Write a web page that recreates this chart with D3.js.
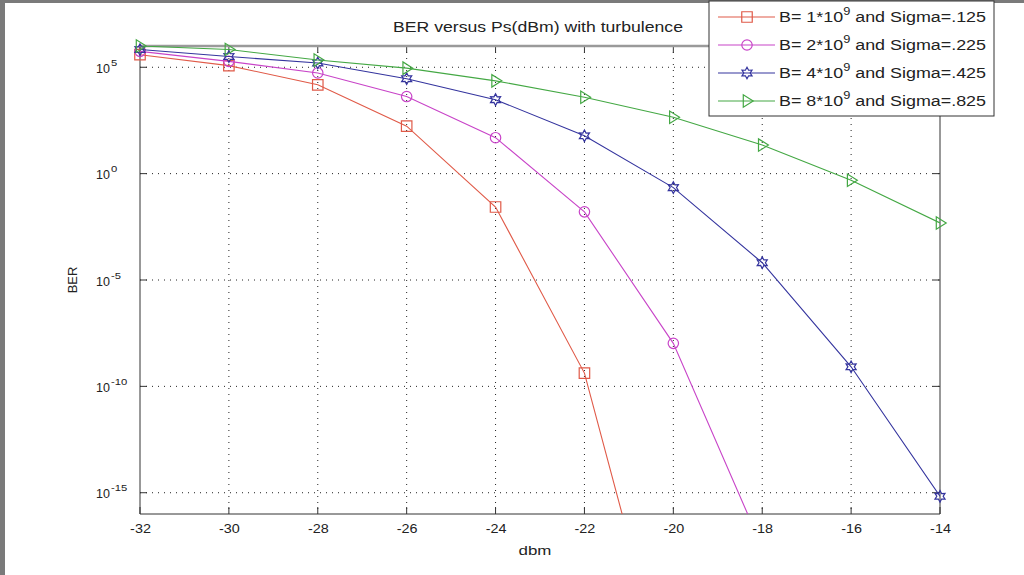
<!DOCTYPE html>
<html><head><meta charset="utf-8">
<script src="https://cdn.jsdelivr.net/npm/d3@7"></script>
<style>
html,body{margin:0;padding:0;background:#fff;}
svg{display:block;}
text{font-family:"Liberation Sans",Arial,sans-serif;fill:#222;}
</style></head>
<body>
<svg id="chart" width="1024" height="575"></svg>
<script>
// ---- data ----
const dbm = [-32, -30, -28, -26, -24, -22, -20, -18, -16, -14];
const xTicks = [-32, -30, -28, -26, -24, -22, -20, -18, -16, -14];
const yTickExps = [5, 0, -5, -10, -15];
const berB1 = [3.9e5, 1.2e5, 1.5e4, 1.7e2, 2.7e-2, 4.2e-10, 1e-25];
const berB2 = [5.6e5, 1.9e5, 5.4e4, 4.2e3, 49, 1.6e-2, 1.05e-8, 2.7e-18];
const berB4 = [6.8e5, 3.2e5, 1.6e5, 2.9e4, 3.0e3, 60, 0.22, 6.5e-5, 8.3e-10, 6.8e-16];
const berB8 = [1.0e6, 6.8e5, 2.2e5, 9.1e4, 2.3e4, 3.9e3, 450, 22, 0.49, 4.8e-3];
const seriesNames = ["B= 1*10", "B= 2*10", "B= 4*10", "B= 8*10"];
const seriesSigma = [" and Sigma=.125", " and Sigma=.225", " and Sigma=.425", " and Sigma=.825"];
const titleText = "BER versus Ps(dBm) with turbulence";
const xLabel = "dbm";
const yLabel = "BER";

const colors = ["#e05a48", "#c844c8", "#34349e", "#44a844"];
const symbols = ["square", "circle", "hexagram", "triangleRight"];
const seriesData = [berB1, berB2, berB4, berB8];

const svg = d3.select("#chart");
const W = 1024, H = 575;
const L = 140, R = 940, T = 46, B = 514;

function stretch(sel, f) {
  sel.each(function() {
    const w = this.getComputedTextLength();
    d3.select(this).attr("textLength", w * f).attr("lengthAdjust", "spacingAndGlyphs");
  });
}

// frame
svg.append("rect").attr("x",0).attr("y",0).attr("width",W).attr("height",H).attr("fill","#fff");
svg.append("rect").attr("x",0).attr("y",0).attr("width",W).attr("height",3).attr("fill","#7a7a7a");
svg.append("rect").attr("x",0).attr("y",0).attr("width",5).attr("height",H).attr("fill","#7a7a7a");

const x = d3.scaleLinear().domain([-32, -14]).range([L, R]);
const y = d3.scaleLog().domain([1e-16, 1e6]).range([B, T]);

// grid
const grid = svg.append("g");
xTicks.forEach(t => {
  if (t === -32 || t === -14) return;
  grid.append("line").attr("x1", x(t)).attr("x2", x(t)).attr("y1", T).attr("y2", B)
    .attr("stroke", "#222").attr("stroke-width", 1).attr("stroke-dasharray", "1,5");
});
yTickExps.forEach(e => {
  grid.append("line").attr("x1", L).attr("x2", R).attr("y1", y(Math.pow(10, e))).attr("y2", y(Math.pow(10, e)))
    .attr("stroke", "#222").attr("stroke-width", 1).attr("stroke-dasharray", "1,5");
});

// axes
const xAxis = d3.axisBottom(x).tickValues(xTicks).tickSize(0).tickPadding(8).tickFormat(d => d);
const gx = svg.append("g").attr("transform", `translate(0,${B})`).call(xAxis);
gx.select(".domain").remove();
gx.selectAll("text").attr("font-size", 12.5).attr("fill", "#222").attr("dy", "0.85em")
  .attr("font-family", "Liberation Sans, Arial, sans-serif");
stretch(gx.selectAll("text"), 1.15);

const yAxis = d3.axisLeft(y).tickValues(yTickExps.map(e => Math.pow(10, e))).tickSize(0).tickPadding(30).tickFormat("");
const gy = svg.append("g").attr("transform", `translate(${L},0)`).call(yAxis);
gy.select(".domain").remove();
gy.selectAll(".tick").each(function(d) {
  const e = Math.round(Math.log10(d));
  const g = d3.select(this);
  g.append("text").attr("x", -30).attr("y", 5)
    .attr("text-anchor", "end").attr("font-size", 12.5).attr("fill", "#222").text("10");
  const ex = g.append("text").attr("x", -29).attr("y", -2)
    .attr("text-anchor", "start").attr("font-size", 9).attr("fill", "#222").text(String(e));
  stretch(ex, 1.25);
});

// ticks (inward) on all sides
const tk = svg.append("g").attr("stroke", "#333").attr("stroke-width", 1);
xTicks.forEach(t => {
  tk.append("line").attr("x1", x(t)).attr("x2", x(t)).attr("y1", B).attr("y2", B - 7);
  tk.append("line").attr("x1", x(t)).attr("x2", x(t)).attr("y1", T).attr("y2", T + 7);
});
yTickExps.forEach(e => {
  const yy = y(Math.pow(10, e));
  tk.append("line").attr("x1", L).attr("x2", L + 7).attr("y1", yy).attr("y2", yy);
  tk.append("line").attr("x1", R).attr("x2", R - 7).attr("y1", yy).attr("y2", yy);
});

// box
svg.append("line").attr("x1", L).attr("x2", L).attr("y1", T).attr("y2", B).attr("stroke", "#333");
svg.append("line").attr("x1", L).attr("x2", R).attr("y1", B).attr("y2", B).attr("stroke", "#333");
svg.append("line").attr("x1", R).attr("x2", R).attr("y1", T).attr("y2", B).attr("stroke", "#333");
svg.append("line").attr("x1", L).attr("x2", R).attr("y1", T).attr("y2", T).attr("stroke", "#9a9a9a").attr("stroke-width", 2.5);

// symbol types
const hexagram = {
  draw(ctx, size) {
    const r = Math.sqrt(size) * 0.75, ri = r * 0.55;
    for (let i = 0; i < 12; i++) {
      const a = -Math.PI / 2 + i * Math.PI / 6;
      const rr = i % 2 === 0 ? r : ri;
      const px = rr * Math.cos(a), py = rr * Math.sin(a);
      if (i === 0) ctx.moveTo(px, py); else ctx.lineTo(px, py);
    }
    ctx.closePath();
  }
};
const triRight = {
  draw(ctx, size) {
    const r = Math.sqrt(size) * 0.62;
    ctx.moveTo(r, 0);
    ctx.lineTo(-r * 0.6, -r);
    ctx.lineTo(-r * 0.6, r);
    ctx.closePath();
  }
};
const symType = { square: d3.symbolSquare, circle: d3.symbolCircle, hexagram: hexagram, triangleRight: triRight };
const symSize = { square: 110, circle: 85, hexagram: 60, triangleRight: 100 };

// clip
svg.append("clipPath").attr("id", "clip").append("rect").attr("x", L).attr("y", T).attr("width", R - L).attr("height", B - T);

const line = d3.line().x(d => x(d[0])).y(d => y(d[1]));
seriesData.forEach((vals, i) => {
  const pts = vals.map((v, j) => [dbm[j], v]);
  svg.append("path").datum(pts).attr("d", line).attr("fill", "none")
    .attr("stroke", colors[i]).attr("stroke-width", 1.1).attr("clip-path", "url(#clip)");
  const inside = pts.filter(p => p[1] >= 1e-16 && p[1] <= 1.2e6);
  svg.append("g").selectAll("path").data(inside).join("path")
    .attr("transform", d => `translate(${x(d[0])},${y(d[1])})`)
    .attr("d", d3.symbol().type(symType[symbols[i]]).size(symSize[symbols[i]]))
    .attr("fill", "none").attr("stroke", colors[i]).attr("stroke-width", 1.2);
});

// title & labels
svg.append("text").attr("x", 538).attr("y", 32).attr("text-anchor", "middle").attr("font-size", 14)
  .attr("textLength", 290).attr("lengthAdjust", "spacingAndGlyphs").text(titleText);
const xl = svg.append("text").attr("x", 535).attr("y", 555).attr("text-anchor", "middle").attr("font-size", 13).text(xLabel);
stretch(xl, 1.3);
svg.append("text").attr("transform", "translate(77,280) rotate(-90)").attr("text-anchor", "middle")
  .attr("font-size", 13).text(yLabel);

// legend
const lg = svg.append("g");
lg.append("rect").attr("x", 709).attr("y", 1).attr("width", 285).attr("height", 115)
  .attr("fill", "#fff").attr("stroke", "#333").attr("stroke-width", 1);
const rowY = [17, 45, 73, 101];
seriesData.forEach((vals, i) => {
  const yy = rowY[i];
  lg.append("line").attr("x1", 718).attr("x2", 775).attr("y1", yy).attr("y2", yy).attr("stroke", colors[i]).attr("stroke-width", 1.1);
  lg.append("path").attr("transform", `translate(747,${yy})`)
    .attr("d", d3.symbol().type(symType[symbols[i]]).size(symSize[symbols[i]]))
    .attr("fill", "none").attr("stroke", colors[i]).attr("stroke-width", 1.2);
  const t = lg.append("text").attr("x", 779).attr("y", yy + 5).attr("font-size", 14)
    .attr("textLength", 207).attr("lengthAdjust", "spacingAndGlyphs");
  t.append("tspan").text(seriesNames[i]);
  t.append("tspan").attr("dy", -7).attr("font-size", 10).text("9");
  t.append("tspan").attr("dy", 7).text(seriesSigma[i]);
});
</script>
</body></html>
